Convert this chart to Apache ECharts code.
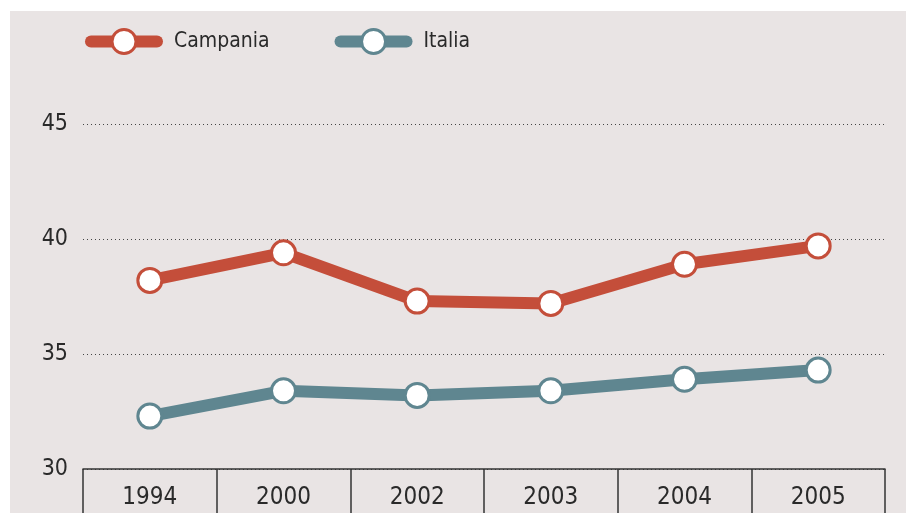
<!DOCTYPE html>
<html>
<head>
<meta charset="utf-8">
<script src="https://cdn.jsdelivr.net/npm/echarts@6/dist/echarts.min.js"></script>
<style>
  html, body { margin: 0; padding: 0; background: #ffffff; }
  #chart { position: absolute; left: 10px; top: 11px; width: 896px; height: 502px; }
</style>
</head>
<body>
<div id="chart"></div>
<script>
// Dati
const anni = ['1994', '2000', '2002', '2003', '2004', '2005'];
const campania = [38.2, 39.4, 37.3, 37.2, 38.9, 39.7];
const italia = [32.3, 33.4, 33.2, 33.4, 33.9, 34.3];

const font = '"DejaVu Sans Condensed", "Liberation Sans Narrow", sans-serif';
const rosso = '#c44e3a';
const blu = '#5f8690';

const chart = echarts.init(document.getElementById('chart'));

function serie(nome, dati, colore) {
    return {
        name: nome,
        type: 'line',
        data: dati,
        symbol: 'circle',
        symbolSize: 24,
        showAllSymbol: true,
        color: colore,
        lineStyle: { color: colore, width: 12, cap: 'round', join: 'round' },
        itemStyle: { color: '#ffffff', borderColor: colore, borderWidth: 3 },
        emphasis: { disabled: true },
        z: 3
    };
}

chart.setOption({
    backgroundColor: '#e9e4e4',
    animation: false,
    textStyle: { fontFamily: font },
    legend: {
        left: 70,
        top: 12,
        itemWidth: 66,
        itemHeight: 30,
        itemGap: 65,
        lineStyle: { width: 12, cap: 'round' },
        itemStyle: { borderWidth: 3 },
        textStyle: { fontFamily: font, fontSize: 21, color: '#2a2a2a', padding: [0, 0, 0, 12] },
        data: ['Campania', 'Italia']
    },
    grid: { left: 73, right: 21, top: 113, bottom: 44 },
    xAxis: {
        type: 'category',
        data: anni,
        boundaryGap: true,
        axisLine: { show: true, lineStyle: { color: '#333333', width: 1.5 } },
        axisTick: { show: true, length: 60, interval: 0, lineStyle: { color: '#333333', width: 1.5 } },
        axisLabel: { fontFamily: font, fontSize: 24, color: '#2a2a2a', margin: 17 },
        splitLine: { show: false }
    },
    yAxis: {
        type: 'value',
        min: 30,
        max: 45,
        interval: 5,
        axisLine: { show: false },
        axisTick: { show: false },
        axisLabel: { fontFamily: font, fontSize: 23, color: '#2a2a2a', margin: 15, padding: [10, 0, 0, 0] },
        splitLine: { show: true, lineStyle: { color: '#444444', width: 1, type: [1, 3] } }
    },
    series: [
        serie('Campania', campania, rosso),
        serie('Italia', italia, blu)
    ]
});
</script>
</body>
</html>
